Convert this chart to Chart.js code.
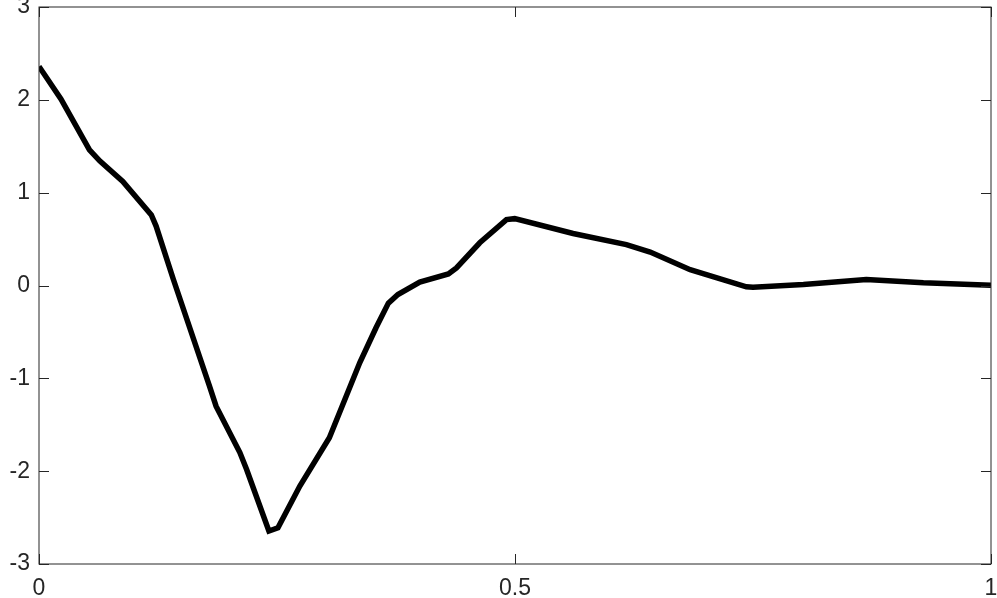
<!DOCTYPE html>
<html>
<head>
<meta charset="utf-8">
<script src="https://cdn.jsdelivr.net/npm/chart.js@4.4.0/dist/chart.umd.min.js"></script>
<style>
  body { margin: 0; background: #fff; }
  #wrap { width: 997px; height: 598px; position: relative; }
</style>
</head>
<body>
<div id="wrap"><canvas id="lineChart"></canvas></div>
<script>
// values
var xValues = [0, 0.023, 0.053, 0.064, 0.088, 0.118, 0.123, 0.141, 0.179, 0.186, 0.211, 0.218, 0.2415, 0.251,
    0.274, 0.305, 0.337, 0.354, 0.367, 0.377, 0.40, 0.43, 0.4385, 0.463, 0.491, 0.4997, 0.561, 0.617, 0.642,
    0.684, 0.743, 0.75, 0.803, 0.869, 0.929, 1.0];
var yValues = [2.36, 2.01, 1.46, 1.34, 1.12, 0.76, 0.64, 0.07, -1.08, -1.30, -1.80, -1.98, -2.645, -2.61,
    -2.16, -1.64, -0.83, -0.455, -0.19, -0.097, 0.036, 0.125, 0.19, 0.46, 0.71, 0.72, 0.56, 0.44, 0.36,
    0.17, -0.014, -0.02, 0.011, 0.065, 0.029, 0.003];
var xTicks = [0, 0.5, 1];
var xTickLabels = ['0', '0.5', '1'];
var yTicks = [-3, -2, -1, 0, 1, 2, 3];

var axisColor = '#262626';

// box round the plot with inward ticks on all four sides (matlab style)
var boxPlugin = {
    id: 'box',
    afterDraw: function (chart) {
        var ctx = chart.ctx;
        var a = chart.chartArea;
        var xs = chart.scales.x, ys = chart.scales.y;
        ctx.save();
        ctx.strokeStyle = axisColor;
        ctx.lineWidth = 1;
        ctx.strokeRect(a.left, a.top, a.right - a.left, a.bottom - a.top);
        ctx.beginPath();
        xTicks.forEach(function (v) {
            var px = Math.round(xs.getPixelForValue(v)) + 0.5;
            ctx.moveTo(px, a.bottom); ctx.lineTo(px, a.bottom - 10);
            ctx.moveTo(px, a.top); ctx.lineTo(px, a.top + 10);
        });
        yTicks.forEach(function (v) {
            var py = Math.round(ys.getPixelForValue(v)) + 0.5;
            ctx.moveTo(a.left, py); ctx.lineTo(a.left + 10, py);
            ctx.moveTo(a.right, py); ctx.lineTo(a.right - 10, py);
        });
        ctx.stroke();
        ctx.restore();
    }
};

var points = xValues.map(function (x, i) { return { x: x, y: yValues[i] }; });

var ctx = document.getElementById('lineChart').getContext('2d');
var myChart = new Chart(ctx, {
    type: 'line',
    data: {
        datasets: [{
            data: points,
            borderColor: '#000000',
            borderWidth: 5.5,
            pointRadius: 0,
            tension: 0,
            fill: false
        }]
    },
    options: {
        responsive: true,
        maintainAspectRatio: false,
        animation: false,
        layout: { padding: { top: 7, right: 6, left: 0, bottom: 0 } },
        plugins: {
            legend: { display: false },
            tooltip: { enabled: false }
        },
        scales: {
            x: {
                type: 'linear',
                min: 0,
                max: 1,
                afterBuildTicks: function (scale) {
                    scale.ticks = xTicks.map(function (v) { return { value: v }; });
                },
                afterFit: function (scale) {
                    scale.height = 34;
                    scale.paddingLeft = 0;
                    scale.paddingRight = 0;
                },
                grid: { display: false, drawTicks: false },
                border: { display: false },
                ticks: {
                    color: axisColor,
                    padding: 11,
                    maxRotation: 0,
                    callback: function (v) { return xTickLabels[xTicks.indexOf(v)]; },
                    font: { family: 'Liberation Sans', size: 23 }
                }
            },
            y: {
                min: -3,
                max: 3,
                afterBuildTicks: function (scale) {
                    scale.ticks = yTicks.map(function (v) { return { value: v }; });
                },
                afterFit: function (scale) {
                    scale.width = 39;
                    scale.paddingTop = 0;
                    scale.paddingBottom = 0;
                },
                grid: { display: false, drawTicks: false },
                border: { display: false },
                ticks: {
                    color: axisColor,
                    padding: 9,
                    font: { family: 'Liberation Sans', size: 23 }
                }
            }
        }
    },
    plugins: [boxPlugin]
});
</script>
</body>
</html>
